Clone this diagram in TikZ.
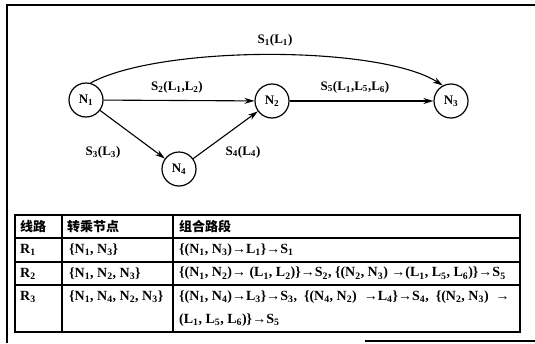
\documentclass[tikz,border=0pt]{standalone}
\usepackage{fontspec}
\setmainfont{Liberation Serif}
\newfontfamily\cjk{Noto Sans CJK SC}
\usetikzlibrary{arrows.meta}
\newcommand{\ssub}[1]{\textsubscript{#1}}
\begin{document}
\begin{tikzpicture}[x=1pt,y=-1pt,
  nd/.style={circle,draw,line width=1.2pt,minimum size=34pt,inner sep=0pt,font=\fontsize{13}{15}\selectfont\bfseries},
  arr/.style={line width=1.1pt,-{Stealth[length=10pt,width=6pt]}},
  lbl/.style={font=\fontsize{13}{15}\selectfont\bfseries,inner sep=0pt},
  cell/.style={anchor=west,font=\fontsize{14}{16}\selectfont\bfseries,inner sep=0pt},
  hcell/.style={anchor=west,font=\fontsize{13}{15}\selectfont\bfseries,inner sep=0pt},
  frame/.style={line width=1.3pt},
  grid/.style={line width=1.1pt}]
\useasboundingbox (0,0) rectangle (535,343);
% outer frame
\draw[frame] (7,343) -- (7,5) -- (535,5);
\draw[grid] (365,341) -- (535,341);
% nodes
\node[nd] (n1) at (86,100) {N\ssub{1}};
\node[nd] (n2) at (272,101) {N\ssub{2}};
\node[nd] (n3) at (451,101) {N\ssub{3}};
\node[nd] (n4) at (179,169) {N\ssub{4}};
% edges
\draw[arr] (n1.75) .. controls (160,45) and (380,45) .. (n3.118);
\draw[arr] (n1) -- (n2);
\draw[arr] (n2) -- (n3);
\draw[arr] (n1) -- (n4);
\draw[arr] (n4) -- (n2);
% labels
\node[lbl] (l1) at (275,40) {S\ssub{1}(L\ssub{1})};
\node[lbl] (l2) at (177,87) {S\ssub{2}(L\ssub{1},L\ssub{2})};
\node[lbl] (l5) at (355,87) {S\ssub{5}(L\ssub{1},L\ssub{5},L\ssub{6})};
\node[lbl] (l3) at (103,152) {S\ssub{3}(L\ssub{3})};
\node[lbl] (l4) at (243,152) {S\ssub{4}(L\ssub{4})};
% table
\draw[grid] (15,215) rectangle (520,332);
\draw[grid] (15,238) -- (520,238);
\draw[grid] (15,262) -- (520,262);
\draw[grid] (15,285) -- (520,285);
\draw[grid] (62,215) -- (62,332);
\draw[grid] (173,215) -- (173,332);
\node[hcell] (h1) at (20,226.5) {\cjk 线路};
\node[hcell] (h2) at (67,226.5) {\cjk 转乘节点};
\node[hcell] (h3) at (179,226.5) {\cjk 组合路段};
\node[cell] (r1a) at (20,250) {R\ssub{1}};
\node[cell] (r1b) at (69,250) {\{N\ssub{1}, N\ssub{3}\}};
\node[cell] (r1c) at (179,250) {\{(N\ssub{1}, N\ssub{3})→L\ssub{1}\}→S\ssub{1}};
\node[cell] (r2a) at (20,273.5) {R\ssub{2}};
\node[cell] (r2b) at (69,273.5) {\{N\ssub{1}, N\ssub{2}, N\ssub{3}\}};
\node[cell] (r2c) at (179,273.5) {\{(N\ssub{1}, N\ssub{2})→ (L\ssub{1}, L\ssub{2})\}→S\ssub{2}, \{(N\ssub{2}, N\ssub{3}) →(L\ssub{1}, L\ssub{5}, L\ssub{6})\}→S\ssub{5}};
\node[cell] (r3a) at (20,297) {R\ssub{3}};
\node[cell] (r3b) at (69,297) {\{N\ssub{1}, N\ssub{4}, N\ssub{2}, N\ssub{3}\}};
\node[cell] (r3c) at (179,297) {\{(N\ssub{1}, N\ssub{4})→L\ssub{3}\}→S\ssub{3}, \ \{(N\ssub{4}, N\ssub{2}) \ →L\ssub{4}\}→S\ssub{4}, \ \{(N\ssub{2}, N\ssub{3}) \ →};
\node[cell] (r3d) at (179,320) {(L\ssub{1}, L\ssub{5}, L\ssub{6})\}→S\ssub{5}};
\end{tikzpicture}
\end{document}
